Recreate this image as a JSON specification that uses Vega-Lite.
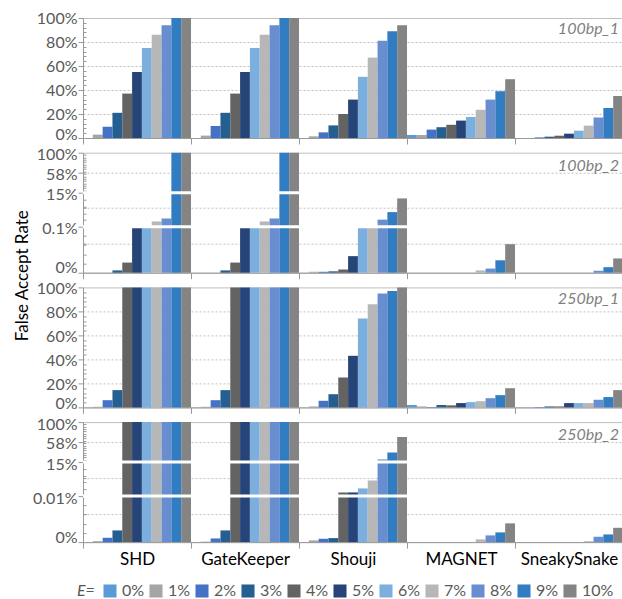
{
  "$schema": "https://vega.github.io/schema/vega-lite/v6.json",
  "padding": {"left": 12, "top": 9, "right": 0, "bottom": 0},
  "background": "white",
  "spacing": 14.7,
  "bounds": "flush",
  "config": {
    "font": "Lato",
    "view": {"stroke": "#bfbfbf"},
    "axis": {"labelFont": "Lato", "labelFontSize": 16, "labelColor": "#595959", "domainColor": "#999999", "tickColor": "#999999", "gridColor": "#bfbfbf", "gridDash": [2, 2], "labelPadding": 1, "labelOverlap": false, "labelFlush": false},
    "axisY": {"labelOffset": {"condition": {"test": "datum.value === 0", "value": -4}, "value": {"expr": "datum.value === 1 ? 3 : 0"}}},
    "axisX": {"labelFontSize": 17, "labelColor": "#000000", "tickSize": 6, "labelPadding": 3, "grid": false, "labelAngle": 0},
    "title": {"anchor": "end", "frame": "group", "offset": -27, "fontStyle": "italic", "fontWeight": "normal", "fontSize": 16, "color": "#7f7f7f", "dx": -4, "font": "Lato"},
    "legend": {"labelFont": "Lato", "titleFont": "Lato"}
  },
  "datasets": {
    "breaks": [
      {"set": "100bp_2", "level": 0.001},
      {"set": "100bp_2", "level": 0.15},
      {"set": "250bp_2", "level": 0.0001},
      {"set": "250bp_2", "level": 0.15}
    ],
    "far": [
      {"set": "100bp_1", "filter": "SHD", "E": "0%", "rate": 0},
      {"set": "100bp_1", "filter": "SHD", "E": "1%", "rate": 0.028},
      {"set": "100bp_1", "filter": "SHD", "E": "2%", "rate": 0.094},
      {"set": "100bp_1", "filter": "SHD", "E": "3%", "rate": 0.21},
      {"set": "100bp_1", "filter": "SHD", "E": "4%", "rate": 0.37},
      {"set": "100bp_1", "filter": "SHD", "E": "5%", "rate": 0.55},
      {"set": "100bp_1", "filter": "SHD", "E": "6%", "rate": 0.75},
      {"set": "100bp_1", "filter": "SHD", "E": "7%", "rate": 0.86},
      {"set": "100bp_1", "filter": "SHD", "E": "8%", "rate": 0.94},
      {"set": "100bp_1", "filter": "SHD", "E": "9%", "rate": 1},
      {"set": "100bp_1", "filter": "SHD", "E": "10%", "rate": 1},
      {"set": "100bp_1", "filter": "GateKeeper", "E": "0%", "rate": 0},
      {"set": "100bp_1", "filter": "GateKeeper", "E": "1%", "rate": 0.02},
      {"set": "100bp_1", "filter": "GateKeeper", "E": "2%", "rate": 0.1},
      {"set": "100bp_1", "filter": "GateKeeper", "E": "3%", "rate": 0.21},
      {"set": "100bp_1", "filter": "GateKeeper", "E": "4%", "rate": 0.37},
      {"set": "100bp_1", "filter": "GateKeeper", "E": "5%", "rate": 0.55},
      {"set": "100bp_1", "filter": "GateKeeper", "E": "6%", "rate": 0.75},
      {"set": "100bp_1", "filter": "GateKeeper", "E": "7%", "rate": 0.86},
      {"set": "100bp_1", "filter": "GateKeeper", "E": "8%", "rate": 0.94},
      {"set": "100bp_1", "filter": "GateKeeper", "E": "9%", "rate": 1},
      {"set": "100bp_1", "filter": "GateKeeper", "E": "10%", "rate": 1},
      {"set": "100bp_1", "filter": "Shouji", "E": "0%", "rate": 0},
      {"set": "100bp_1", "filter": "Shouji", "E": "1%", "rate": 0.014},
      {"set": "100bp_1", "filter": "Shouji", "E": "2%", "rate": 0.047},
      {"set": "100bp_1", "filter": "Shouji", "E": "3%", "rate": 0.105},
      {"set": "100bp_1", "filter": "Shouji", "E": "4%", "rate": 0.2},
      {"set": "100bp_1", "filter": "Shouji", "E": "5%", "rate": 0.32},
      {"set": "100bp_1", "filter": "Shouji", "E": "6%", "rate": 0.51},
      {"set": "100bp_1", "filter": "Shouji", "E": "7%", "rate": 0.67},
      {"set": "100bp_1", "filter": "Shouji", "E": "8%", "rate": 0.81},
      {"set": "100bp_1", "filter": "Shouji", "E": "9%", "rate": 0.89},
      {"set": "100bp_1", "filter": "Shouji", "E": "10%", "rate": 0.94},
      {"set": "100bp_1", "filter": "MAGNET", "E": "0%", "rate": 0.025},
      {"set": "100bp_1", "filter": "MAGNET", "E": "1%", "rate": 0.025},
      {"set": "100bp_1", "filter": "MAGNET", "E": "2%", "rate": 0.07},
      {"set": "100bp_1", "filter": "MAGNET", "E": "3%", "rate": 0.09},
      {"set": "100bp_1", "filter": "MAGNET", "E": "4%", "rate": 0.11},
      {"set": "100bp_1", "filter": "MAGNET", "E": "5%", "rate": 0.145},
      {"set": "100bp_1", "filter": "MAGNET", "E": "6%", "rate": 0.175},
      {"set": "100bp_1", "filter": "MAGNET", "E": "7%", "rate": 0.235},
      {"set": "100bp_1", "filter": "MAGNET", "E": "8%", "rate": 0.32},
      {"set": "100bp_1", "filter": "MAGNET", "E": "9%", "rate": 0.39},
      {"set": "100bp_1", "filter": "MAGNET", "E": "10%", "rate": 0.49},
      {"set": "100bp_1", "filter": "SneakySnake", "E": "0%", "rate": 0},
      {"set": "100bp_1", "filter": "SneakySnake", "E": "1%", "rate": 0},
      {"set": "100bp_1", "filter": "SneakySnake", "E": "2%", "rate": 0.005},
      {"set": "100bp_1", "filter": "SneakySnake", "E": "3%", "rate": 0.011},
      {"set": "100bp_1", "filter": "SneakySnake", "E": "4%", "rate": 0.019},
      {"set": "100bp_1", "filter": "SneakySnake", "E": "5%", "rate": 0.036},
      {"set": "100bp_1", "filter": "SneakySnake", "E": "6%", "rate": 0.061},
      {"set": "100bp_1", "filter": "SneakySnake", "E": "7%", "rate": 0.103},
      {"set": "100bp_1", "filter": "SneakySnake", "E": "8%", "rate": 0.17},
      {"set": "100bp_1", "filter": "SneakySnake", "E": "9%", "rate": 0.25},
      {"set": "100bp_1", "filter": "SneakySnake", "E": "10%", "rate": 0.35},

      {"set": "100bp_2", "filter": "SHD", "E": "0%", "rate": 0},
      {"set": "100bp_2", "filter": "SHD", "E": "1%", "rate": 0},
      {"set": "100bp_2", "filter": "SHD", "E": "2%", "rate": 0},
      {"set": "100bp_2", "filter": "SHD", "E": "3%", "rate": 0.00005},
      {"set": "100bp_2", "filter": "SHD", "E": "4%", "rate": 0.00022},
      {"set": "100bp_2", "filter": "SHD", "E": "5%", "rate": 0.001},
      {"set": "100bp_2", "filter": "SHD", "E": "6%", "rate": 0.001},
      {"set": "100bp_2", "filter": "SHD", "E": "7%", "rate": 0.024},
      {"set": "100bp_2", "filter": "SHD", "E": "8%", "rate": 0.037},
      {"set": "100bp_2", "filter": "SHD", "E": "9%", "rate": 1},
      {"set": "100bp_2", "filter": "SHD", "E": "10%", "rate": 1},
      {"set": "100bp_2", "filter": "GateKeeper", "E": "0%", "rate": 0},
      {"set": "100bp_2", "filter": "GateKeeper", "E": "1%", "rate": 0},
      {"set": "100bp_2", "filter": "GateKeeper", "E": "2%", "rate": 0},
      {"set": "100bp_2", "filter": "GateKeeper", "E": "3%", "rate": 0.00005},
      {"set": "100bp_2", "filter": "GateKeeper", "E": "4%", "rate": 0.00022},
      {"set": "100bp_2", "filter": "GateKeeper", "E": "5%", "rate": 0.001},
      {"set": "100bp_2", "filter": "GateKeeper", "E": "6%", "rate": 0.001},
      {"set": "100bp_2", "filter": "GateKeeper", "E": "7%", "rate": 0.024},
      {"set": "100bp_2", "filter": "GateKeeper", "E": "8%", "rate": 0.037},
      {"set": "100bp_2", "filter": "GateKeeper", "E": "9%", "rate": 1},
      {"set": "100bp_2", "filter": "GateKeeper", "E": "10%", "rate": 1},
      {"set": "100bp_2", "filter": "Shouji", "E": "0%", "rate": 0},
      {"set": "100bp_2", "filter": "Shouji", "E": "1%", "rate": 0.00002},
      {"set": "100bp_2", "filter": "Shouji", "E": "2%", "rate": 0.00002},
      {"set": "100bp_2", "filter": "Shouji", "E": "3%", "rate": 0.00003},
      {"set": "100bp_2", "filter": "Shouji", "E": "4%", "rate": 0.00007},
      {"set": "100bp_2", "filter": "Shouji", "E": "5%", "rate": 0.00036},
      {"set": "100bp_2", "filter": "Shouji", "E": "6%", "rate": 0.001},
      {"set": "100bp_2", "filter": "Shouji", "E": "7%", "rate": 0.001},
      {"set": "100bp_2", "filter": "Shouji", "E": "8%", "rate": 0.032},
      {"set": "100bp_2", "filter": "Shouji", "E": "9%", "rate": 0.065},
      {"set": "100bp_2", "filter": "Shouji", "E": "10%", "rate": 0.125},
      {"set": "100bp_2", "filter": "MAGNET", "E": "0%", "rate": 0},
      {"set": "100bp_2", "filter": "MAGNET", "E": "1%", "rate": 0},
      {"set": "100bp_2", "filter": "MAGNET", "E": "2%", "rate": 0},
      {"set": "100bp_2", "filter": "MAGNET", "E": "3%", "rate": 0},
      {"set": "100bp_2", "filter": "MAGNET", "E": "4%", "rate": 0},
      {"set": "100bp_2", "filter": "MAGNET", "E": "5%", "rate": 0},
      {"set": "100bp_2", "filter": "MAGNET", "E": "6%", "rate": 0},
      {"set": "100bp_2", "filter": "MAGNET", "E": "7%", "rate": 0.00005},
      {"set": "100bp_2", "filter": "MAGNET", "E": "8%", "rate": 0.00009},
      {"set": "100bp_2", "filter": "MAGNET", "E": "9%", "rate": 0.00027},
      {"set": "100bp_2", "filter": "MAGNET", "E": "10%", "rate": 0.00062},
      {"set": "100bp_2", "filter": "SneakySnake", "E": "0%", "rate": 0},
      {"set": "100bp_2", "filter": "SneakySnake", "E": "1%", "rate": 0},
      {"set": "100bp_2", "filter": "SneakySnake", "E": "2%", "rate": 0},
      {"set": "100bp_2", "filter": "SneakySnake", "E": "3%", "rate": 0},
      {"set": "100bp_2", "filter": "SneakySnake", "E": "4%", "rate": 0},
      {"set": "100bp_2", "filter": "SneakySnake", "E": "5%", "rate": 0},
      {"set": "100bp_2", "filter": "SneakySnake", "E": "6%", "rate": 0},
      {"set": "100bp_2", "filter": "SneakySnake", "E": "7%", "rate": 0},
      {"set": "100bp_2", "filter": "SneakySnake", "E": "8%", "rate": 0.00004},
      {"set": "100bp_2", "filter": "SneakySnake", "E": "9%", "rate": 0.00012},
      {"set": "100bp_2", "filter": "SneakySnake", "E": "10%", "rate": 0.00031},

      {"set": "250bp_1", "filter": "SHD", "E": "0%", "rate": 0},
      {"set": "250bp_1", "filter": "SHD", "E": "1%", "rate": 0.005},
      {"set": "250bp_1", "filter": "SHD", "E": "2%", "rate": 0.06},
      {"set": "250bp_1", "filter": "SHD", "E": "3%", "rate": 0.144},
      {"set": "250bp_1", "filter": "SHD", "E": "4%", "rate": 1},
      {"set": "250bp_1", "filter": "SHD", "E": "5%", "rate": 1},
      {"set": "250bp_1", "filter": "SHD", "E": "6%", "rate": 1},
      {"set": "250bp_1", "filter": "SHD", "E": "7%", "rate": 1},
      {"set": "250bp_1", "filter": "SHD", "E": "8%", "rate": 1},
      {"set": "250bp_1", "filter": "SHD", "E": "9%", "rate": 1},
      {"set": "250bp_1", "filter": "SHD", "E": "10%", "rate": 1},
      {"set": "250bp_1", "filter": "GateKeeper", "E": "0%", "rate": 0},
      {"set": "250bp_1", "filter": "GateKeeper", "E": "1%", "rate": 0.005},
      {"set": "250bp_1", "filter": "GateKeeper", "E": "2%", "rate": 0.06},
      {"set": "250bp_1", "filter": "GateKeeper", "E": "3%", "rate": 0.144},
      {"set": "250bp_1", "filter": "GateKeeper", "E": "4%", "rate": 1},
      {"set": "250bp_1", "filter": "GateKeeper", "E": "5%", "rate": 1},
      {"set": "250bp_1", "filter": "GateKeeper", "E": "6%", "rate": 1},
      {"set": "250bp_1", "filter": "GateKeeper", "E": "7%", "rate": 1},
      {"set": "250bp_1", "filter": "GateKeeper", "E": "8%", "rate": 1},
      {"set": "250bp_1", "filter": "GateKeeper", "E": "9%", "rate": 1},
      {"set": "250bp_1", "filter": "GateKeeper", "E": "10%", "rate": 1},
      {"set": "250bp_1", "filter": "Shouji", "E": "0%", "rate": 0},
      {"set": "250bp_1", "filter": "Shouji", "E": "1%", "rate": 0.008},
      {"set": "250bp_1", "filter": "Shouji", "E": "2%", "rate": 0.055},
      {"set": "250bp_1", "filter": "Shouji", "E": "3%", "rate": 0.11},
      {"set": "250bp_1", "filter": "Shouji", "E": "4%", "rate": 0.25},
      {"set": "250bp_1", "filter": "Shouji", "E": "5%", "rate": 0.43},
      {"set": "250bp_1", "filter": "Shouji", "E": "6%", "rate": 0.74},
      {"set": "250bp_1", "filter": "Shouji", "E": "7%", "rate": 0.86},
      {"set": "250bp_1", "filter": "Shouji", "E": "8%", "rate": 0.95},
      {"set": "250bp_1", "filter": "Shouji", "E": "9%", "rate": 0.97},
      {"set": "250bp_1", "filter": "Shouji", "E": "10%", "rate": 1},
      {"set": "250bp_1", "filter": "MAGNET", "E": "0%", "rate": 0.02},
      {"set": "250bp_1", "filter": "MAGNET", "E": "1%", "rate": 0.008},
      {"set": "250bp_1", "filter": "MAGNET", "E": "2%", "rate": 0.003},
      {"set": "250bp_1", "filter": "MAGNET", "E": "3%", "rate": 0.02},
      {"set": "250bp_1", "filter": "MAGNET", "E": "4%", "rate": 0.017},
      {"set": "250bp_1", "filter": "MAGNET", "E": "5%", "rate": 0.036},
      {"set": "250bp_1", "filter": "MAGNET", "E": "6%", "rate": 0.044},
      {"set": "250bp_1", "filter": "MAGNET", "E": "7%", "rate": 0.052},
      {"set": "250bp_1", "filter": "MAGNET", "E": "8%", "rate": 0.077},
      {"set": "250bp_1", "filter": "MAGNET", "E": "9%", "rate": 0.102},
      {"set": "250bp_1", "filter": "MAGNET", "E": "10%", "rate": 0.16},
      {"set": "250bp_1", "filter": "SneakySnake", "E": "0%", "rate": 0},
      {"set": "250bp_1", "filter": "SneakySnake", "E": "1%", "rate": 0},
      {"set": "250bp_1", "filter": "SneakySnake", "E": "2%", "rate": 0.003},
      {"set": "250bp_1", "filter": "SneakySnake", "E": "3%", "rate": 0.008},
      {"set": "250bp_1", "filter": "SneakySnake", "E": "4%", "rate": 0.008},
      {"set": "250bp_1", "filter": "SneakySnake", "E": "5%", "rate": 0.036},
      {"set": "250bp_1", "filter": "SneakySnake", "E": "6%", "rate": 0.036},
      {"set": "250bp_1", "filter": "SneakySnake", "E": "7%", "rate": 0.036},
      {"set": "250bp_1", "filter": "SneakySnake", "E": "8%", "rate": 0.064},
      {"set": "250bp_1", "filter": "SneakySnake", "E": "9%", "rate": 0.086},
      {"set": "250bp_1", "filter": "SneakySnake", "E": "10%", "rate": 0.144},

      {"set": "250bp_2", "filter": "SHD", "E": "0%", "rate": 0},
      {"set": "250bp_2", "filter": "SHD", "E": "1%", "rate": 0.000002},
      {"set": "250bp_2", "filter": "SHD", "E": "2%", "rate": 0.0000094},
      {"set": "250bp_2", "filter": "SHD", "E": "3%", "rate": 0.0000254},
      {"set": "250bp_2", "filter": "SHD", "E": "4%", "rate": 1},
      {"set": "250bp_2", "filter": "SHD", "E": "5%", "rate": 1},
      {"set": "250bp_2", "filter": "SHD", "E": "6%", "rate": 1},
      {"set": "250bp_2", "filter": "SHD", "E": "7%", "rate": 1},
      {"set": "250bp_2", "filter": "SHD", "E": "8%", "rate": 1},
      {"set": "250bp_2", "filter": "SHD", "E": "9%", "rate": 1},
      {"set": "250bp_2", "filter": "SHD", "E": "10%", "rate": 1},
      {"set": "250bp_2", "filter": "GateKeeper", "E": "0%", "rate": 0},
      {"set": "250bp_2", "filter": "GateKeeper", "E": "1%", "rate": 0.000001},
      {"set": "250bp_2", "filter": "GateKeeper", "E": "2%", "rate": 0.000008},
      {"set": "250bp_2", "filter": "GateKeeper", "E": "3%", "rate": 0.0000254},
      {"set": "250bp_2", "filter": "GateKeeper", "E": "4%", "rate": 1},
      {"set": "250bp_2", "filter": "GateKeeper", "E": "5%", "rate": 1},
      {"set": "250bp_2", "filter": "GateKeeper", "E": "6%", "rate": 1},
      {"set": "250bp_2", "filter": "GateKeeper", "E": "7%", "rate": 1},
      {"set": "250bp_2", "filter": "GateKeeper", "E": "8%", "rate": 1},
      {"set": "250bp_2", "filter": "GateKeeper", "E": "9%", "rate": 1},
      {"set": "250bp_2", "filter": "GateKeeper", "E": "10%", "rate": 1},
      {"set": "250bp_2", "filter": "Shouji", "E": "0%", "rate": 0},
      {"set": "250bp_2", "filter": "Shouji", "E": "1%", "rate": 0.0000037},
      {"set": "250bp_2", "filter": "Shouji", "E": "2%", "rate": 0.0000072},
      {"set": "250bp_2", "filter": "Shouji", "E": "3%", "rate": 0.0000087},
      {"set": "250bp_2", "filter": "Shouji", "E": "4%", "rate": 0.0164},
      {"set": "250bp_2", "filter": "Shouji", "E": "5%", "rate": 0.0164},
      {"set": "250bp_2", "filter": "Shouji", "E": "6%", "rate": 0.034},
      {"set": "250bp_2", "filter": "Shouji", "E": "7%", "rate": 0.069},
      {"set": "250bp_2", "filter": "Shouji", "E": "8%", "rate": 0.207},
      {"set": "250bp_2", "filter": "Shouji", "E": "9%", "rate": 0.356},
      {"set": "250bp_2", "filter": "Shouji", "E": "10%", "rate": 0.681},
      {"set": "250bp_2", "filter": "MAGNET", "E": "0%", "rate": 0},
      {"set": "250bp_2", "filter": "MAGNET", "E": "1%", "rate": 0},
      {"set": "250bp_2", "filter": "MAGNET", "E": "2%", "rate": 0},
      {"set": "250bp_2", "filter": "MAGNET", "E": "3%", "rate": 0},
      {"set": "250bp_2", "filter": "MAGNET", "E": "4%", "rate": 0},
      {"set": "250bp_2", "filter": "MAGNET", "E": "5%", "rate": 0},
      {"set": "250bp_2", "filter": "MAGNET", "E": "6%", "rate": 0},
      {"set": "250bp_2", "filter": "MAGNET", "E": "7%", "rate": 0.0000059},
      {"set": "250bp_2", "filter": "MAGNET", "E": "8%", "rate": 0.0000146},
      {"set": "250bp_2", "filter": "MAGNET", "E": "9%", "rate": 0.0000211},
      {"set": "250bp_2", "filter": "MAGNET", "E": "10%", "rate": 0.0000407},
      {"set": "250bp_2", "filter": "SneakySnake", "E": "0%", "rate": 0},
      {"set": "250bp_2", "filter": "SneakySnake", "E": "1%", "rate": 0},
      {"set": "250bp_2", "filter": "SneakySnake", "E": "2%", "rate": 0},
      {"set": "250bp_2", "filter": "SneakySnake", "E": "3%", "rate": 0},
      {"set": "250bp_2", "filter": "SneakySnake", "E": "4%", "rate": 0},
      {"set": "250bp_2", "filter": "SneakySnake", "E": "5%", "rate": 0},
      {"set": "250bp_2", "filter": "SneakySnake", "E": "6%", "rate": 0},
      {"set": "250bp_2", "filter": "SneakySnake", "E": "7%", "rate": 0.000002},
      {"set": "250bp_2", "filter": "SneakySnake", "E": "8%", "rate": 0.0000115},
      {"set": "250bp_2", "filter": "SneakySnake", "E": "9%", "rate": 0.0000167},
      {"set": "250bp_2", "filter": "SneakySnake", "E": "10%", "rate": 0.0000311}
    ]
  },
  "vconcat": [
    {
      "width": 540, "height": 120,
      "title": {"text": "100bp_1"},
      "data": {"name": "far"},
      "transform": [{"filter": "datum.set === '100bp_1'"}],
      "mark": {"type": "bar"},
      "encoding": {
        "x": {"field": "filter", "type": "nominal", "scale": {"domain": ["SHD", "GateKeeper", "Shouji", "MAGNET", "SneakySnake"], "paddingInner": 0, "paddingOuter": 0}, "axis": {"labels": false, "title": null, "tickBand": "extent"}},
        "xOffset": {"field": "E", "type": "nominal", "scale": {"domain": ["0%", "1%", "2%", "3%", "4%", "5%", "6%", "7%", "8%", "9%", "10%"], "paddingInner": 0, "paddingOuter": 0}},
        "y": {"field": "rate", "type": "quantitative", "stack": null, "scale": {"domain": [0, 1], "nice": false}, "axis": {"title": null, "values": [0, 0.04, 0.08, 0.12, 0.16, 0.2, 0.24, 0.28, 0.32, 0.36, 0.4, 0.44, 0.48, 0.52, 0.56, 0.6, 0.64, 0.68, 0.72, 0.76, 0.8, 0.84, 0.88, 0.92, 0.96, 1], "labelExpr": "abs(datum.value*5-round(datum.value*5))<0.001 ? format(datum.value, '.0%') : ''", "grid": true, "gridOpacity": {"condition": {"test": "datum.value > 0.01 && datum.value < 0.99 && abs(datum.value*5-round(datum.value*5))<0.001", "value": 1}, "value": 0}, "tickSize": {"condition": {"test": "abs(datum.value*5-round(datum.value*5))<0.001", "value": 5}, "value": -3}, "labelOffset": {"condition": {"test": "datum.value === 0", "value": -4}, "value": 0}}},
        "color": {"field": "E", "type": "nominal", "scale": {"domain": ["0%", "1%", "2%", "3%", "4%", "5%", "6%", "7%", "8%", "9%", "10%"], "range": ["#5B9BD5", "#A5A5A5", "#4472C4", "#255E91", "#636363", "#264478", "#7CAFDD", "#B7B7B7", "#698ED0", "#327DC2", "#848484"]}, "legend": {"orient": "none", "legendX": -6, "legendY": 565, "direction": "horizontal", "columns": 11, "title": "E=", "titleOrient": "left", "titleFontStyle": "italic", "titleFontWeight": "normal", "titleFontSize": 16, "titleColor": "#595959", "titlePadding": 7, "symbolType": "square", "symbolSize": 170, "symbolStrokeWidth": 0, "symbolOpacity": 1, "labelFontSize": 16, "labelColor": "#595959", "labelOffset": 4, "columnPadding": 3}}
      }
    },
    {
      "width": 540, "height": 120,
      "title": {"text": "100bp_2"},
      "layer": [
        {
          "data": {"name": "far"},
          "transform": [{"filter": "datum.set === '100bp_2'"}],
          "mark": {"type": "bar"},
          "encoding": {
            "x": {"field": "filter", "type": "nominal", "scale": {"domain": ["SHD", "GateKeeper", "Shouji", "MAGNET", "SneakySnake"], "paddingInner": 0, "paddingOuter": 0}, "axis": {"labels": false, "title": null, "tickBand": "extent"}},
            "xOffset": {"field": "E", "type": "nominal", "scale": {"domain": ["0%", "1%", "2%", "3%", "4%", "5%", "6%", "7%", "8%", "9%", "10%"], "paddingInner": 0, "paddingOuter": 0}},
            "y": {"field": "rate", "type": "quantitative", "stack": null, "scale": {"domain": [0, 0.001, 0.15, 1], "range": [120, 74, 40, 0], "nice": false, "zero": false}, "axis": {"title": "False Accept Rate", "titleFontSize": 17, "titleColor": "#000000", "titleFontWeight": "normal", "titleFont": "Lato", "titleAngle": -90, "titleX": -61, "titleY": 122.5, "titleAlign": "center", "titleBaseline": "middle", "values": [0, 0.0002, 0.0004, 0.0006, 0.00063, 0.0008, 0.001, 0.03, 0.06, 0.084, 0.09, 0.12, 0.15, 0.2, 0.25, 0.3, 0.35, 0.4, 0.45, 0.5, 0.55, 0.58, 0.6, 0.65, 0.7, 0.75, 0.8, 0.85, 0.9, 0.95, 1], "labelExpr": "datum.value === 0 ? '0%' : datum.value === 0.001 ? '0.1%' : datum.value === 0.15 ? '15%' : datum.value === 0.58 ? '58%' : datum.value === 1 ? '100%' : ''", "grid": true, "gridOpacity": {"condition": {"test": "indexof([0.00063, 0.084, 0.58], datum.value) >= 0", "value": 1}, "value": 0}, "tickSize": {"condition": {"test": "indexof([0, 0.001, 0.15, 0.58, 1], datum.value) >= 0", "value": 5}, "value": -3}, "labelOffset": {"condition": {"test": "datum.value === 0", "value": -5}, "value": 2}}},
            "color": {"field": "E", "type": "nominal", "scale": {"domain": ["0%", "1%", "2%", "3%", "4%", "5%", "6%", "7%", "8%", "9%", "10%"], "range": ["#5B9BD5", "#A5A5A5", "#4472C4", "#255E91", "#636363", "#264478", "#7CAFDD", "#B7B7B7", "#698ED0", "#327DC2", "#848484"]}, "legend": {"orient": "none", "legendX": -6, "legendY": 565, "direction": "horizontal", "columns": 11, "title": "E=", "titleOrient": "left", "titleFontStyle": "italic", "titleFontWeight": "normal", "titleFontSize": 16, "titleColor": "#595959", "titlePadding": 7, "symbolType": "square", "symbolSize": 170, "symbolStrokeWidth": 0, "symbolOpacity": 1, "labelFontSize": 16, "labelColor": "#595959", "labelOffset": 4, "columnPadding": 3}}
          }
        },
        {
          "data": {"name": "breaks"},
          "transform": [{"filter": "datum.set === '100bp_2'"}],
          "mark": {"type": "rule", "color": "white", "strokeWidth": 3},
          "encoding": {
            "y": {"field": "level", "type": "quantitative", "scale": {"domain": [0, 0.001, 0.15, 1], "range": [120, 74, 40, 0], "nice": false, "zero": false}, "axis": {"title": "False Accept Rate", "titleFontSize": 17, "titleColor": "#000000", "titleFontWeight": "normal", "titleFont": "Lato", "titleAngle": -90, "titleX": -61, "titleY": 122.5, "titleAlign": "center", "titleBaseline": "middle", "values": [0, 0.0002, 0.0004, 0.0006, 0.00063, 0.0008, 0.001, 0.03, 0.06, 0.084, 0.09, 0.12, 0.15, 0.2, 0.25, 0.3, 0.35, 0.4, 0.45, 0.5, 0.55, 0.58, 0.6, 0.65, 0.7, 0.75, 0.8, 0.85, 0.9, 0.95, 1], "labelExpr": "datum.value === 0 ? '0%' : datum.value === 0.001 ? '0.1%' : datum.value === 0.15 ? '15%' : datum.value === 0.58 ? '58%' : datum.value === 1 ? '100%' : ''", "grid": true, "gridOpacity": {"condition": {"test": "indexof([0.00063, 0.084, 0.58], datum.value) >= 0", "value": 1}, "value": 0}, "tickSize": {"condition": {"test": "indexof([0, 0.001, 0.15, 0.58, 1], datum.value) >= 0", "value": 5}, "value": -3}, "labelOffset": {"condition": {"test": "datum.value === 0", "value": -5}, "value": 2}}}
          }
        }
      ]
    },
    {
      "width": 540, "height": 120,
      "title": {"text": "250bp_1"},
      "data": {"name": "far"},
      "transform": [{"filter": "datum.set === '250bp_1'"}],
      "mark": {"type": "bar"},
      "encoding": {
        "x": {"field": "filter", "type": "nominal", "scale": {"domain": ["SHD", "GateKeeper", "Shouji", "MAGNET", "SneakySnake"], "paddingInner": 0, "paddingOuter": 0}, "axis": {"labels": false, "title": null, "tickBand": "extent"}},
        "xOffset": {"field": "E", "type": "nominal", "scale": {"domain": ["0%", "1%", "2%", "3%", "4%", "5%", "6%", "7%", "8%", "9%", "10%"], "paddingInner": 0, "paddingOuter": 0}},
        "y": {"field": "rate", "type": "quantitative", "stack": null, "scale": {"domain": [0, 1], "nice": false}, "axis": {"title": null, "values": [0, 0.04, 0.08, 0.12, 0.16, 0.2, 0.24, 0.28, 0.32, 0.36, 0.4, 0.44, 0.48, 0.52, 0.56, 0.6, 0.64, 0.68, 0.72, 0.76, 0.8, 0.84, 0.88, 0.92, 0.96, 1], "labelExpr": "abs(datum.value*5-round(datum.value*5))<0.001 ? format(datum.value, '.0%') : ''", "grid": true, "gridOpacity": {"condition": {"test": "datum.value > 0.01 && datum.value < 0.99 && abs(datum.value*5-round(datum.value*5))<0.001", "value": 1}, "value": 0}, "tickSize": {"condition": {"test": "abs(datum.value*5-round(datum.value*5))<0.001", "value": 5}, "value": -3}, "labelOffset": {"condition": {"test": "datum.value === 0", "value": -4}, "value": 1}}},
        "color": {"field": "E", "type": "nominal", "scale": {"domain": ["0%", "1%", "2%", "3%", "4%", "5%", "6%", "7%", "8%", "9%", "10%"], "range": ["#5B9BD5", "#A5A5A5", "#4472C4", "#255E91", "#636363", "#264478", "#7CAFDD", "#B7B7B7", "#698ED0", "#327DC2", "#848484"]}, "legend": {"orient": "none", "legendX": -6, "legendY": 565, "direction": "horizontal", "columns": 11, "title": "E=", "titleOrient": "left", "titleFontStyle": "italic", "titleFontWeight": "normal", "titleFontSize": 16, "titleColor": "#595959", "titlePadding": 7, "symbolType": "square", "symbolSize": 170, "symbolStrokeWidth": 0, "symbolOpacity": 1, "labelFontSize": 16, "labelColor": "#595959", "labelOffset": 4, "columnPadding": 3}}
      }
    },
    {
      "width": 540, "height": 120,
      "title": {"text": "250bp_2"},
      "layer": [
        {
          "data": {"name": "far"},
          "transform": [{"filter": "datum.set === '250bp_2'"}],
          "mark": {"type": "bar"},
          "encoding": {
            "x": {"field": "filter", "type": "nominal", "scale": {"domain": ["SHD", "GateKeeper", "Shouji", "MAGNET", "SneakySnake"], "paddingInner": 0, "paddingOuter": 0}, "axis": {"labels": true, "title": null, "tickBand": "extent", "labelAngle": 0}},
            "xOffset": {"field": "E", "type": "nominal", "scale": {"domain": ["0%", "1%", "2%", "3%", "4%", "5%", "6%", "7%", "8%", "9%", "10%"], "paddingInner": 0, "paddingOuter": 0}},
            "y": {"field": "rate", "type": "quantitative", "stack": null, "scale": {"domain": [0, 0.0001, 0.15, 1], "range": [120, 74, 40, 0], "nice": false, "zero": false}, "axis": {"title": null, "values": [0, 0.00002, 0.00004, 0.00006, 0.0000609, 0.00008, 0.0001, 0.03, 0.06, 0.0808, 0.09, 0.12, 0.15, 0.2, 0.25, 0.3, 0.35, 0.4, 0.45, 0.5, 0.55, 0.58, 0.6, 0.65, 0.7, 0.75, 0.8, 0.85, 0.9, 0.95, 1], "labelExpr": "datum.value === 0 ? '0%' : datum.value === 0.0001 ? '0.01%' : datum.value === 0.15 ? '15%' : datum.value === 0.58 ? '58%' : datum.value === 1 ? '100%' : ''", "grid": true, "gridOpacity": {"condition": {"test": "indexof([0.0000609, 0.0808, 0.58], datum.value) >= 0", "value": 1}, "value": 0}, "tickSize": {"condition": {"test": "indexof([0, 0.0001, 0.15, 0.58, 1], datum.value) >= 0", "value": 5}, "value": -3}, "labelOffset": {"condition": {"test": "datum.value === 0", "value": -5}, "value": 2}}},
            "color": {"field": "E", "type": "nominal", "scale": {"domain": ["0%", "1%", "2%", "3%", "4%", "5%", "6%", "7%", "8%", "9%", "10%"], "range": ["#5B9BD5", "#A5A5A5", "#4472C4", "#255E91", "#636363", "#264478", "#7CAFDD", "#B7B7B7", "#698ED0", "#327DC2", "#848484"]}, "legend": {"orient": "none", "legendX": -6, "legendY": 565, "direction": "horizontal", "columns": 11, "title": "E=", "titleOrient": "left", "titleFontStyle": "italic", "titleFontWeight": "normal", "titleFontSize": 16, "titleColor": "#595959", "titlePadding": 7, "symbolType": "square", "symbolSize": 170, "symbolStrokeWidth": 0, "symbolOpacity": 1, "labelFontSize": 16, "labelColor": "#595959", "labelOffset": 4, "columnPadding": 3}}
          }
        },
        {
          "data": {"name": "breaks"},
          "transform": [{"filter": "datum.set === '250bp_2'"}],
          "mark": {"type": "rule", "color": "white", "strokeWidth": 3},
          "encoding": {
            "y": {"field": "level", "type": "quantitative", "scale": {"domain": [0, 0.0001, 0.15, 1], "range": [120, 74, 40, 0], "nice": false, "zero": false}, "axis": {"title": null, "values": [0, 0.00002, 0.00004, 0.00006, 0.0000609, 0.00008, 0.0001, 0.03, 0.06, 0.0808, 0.09, 0.12, 0.15, 0.2, 0.25, 0.3, 0.35, 0.4, 0.45, 0.5, 0.55, 0.58, 0.6, 0.65, 0.7, 0.75, 0.8, 0.85, 0.9, 0.95, 1], "labelExpr": "datum.value === 0 ? '0%' : datum.value === 0.0001 ? '0.01%' : datum.value === 0.15 ? '15%' : datum.value === 0.58 ? '58%' : datum.value === 1 ? '100%' : ''", "grid": true, "gridOpacity": {"condition": {"test": "indexof([0.0000609, 0.0808, 0.58], datum.value) >= 0", "value": 1}, "value": 0}, "tickSize": {"condition": {"test": "indexof([0, 0.0001, 0.15, 0.58, 1], datum.value) >= 0", "value": 5}, "value": -3}, "labelOffset": {"condition": {"test": "datum.value === 0", "value": -5}, "value": 2}}}
          }
        }
      ]
    }
  ]
}
